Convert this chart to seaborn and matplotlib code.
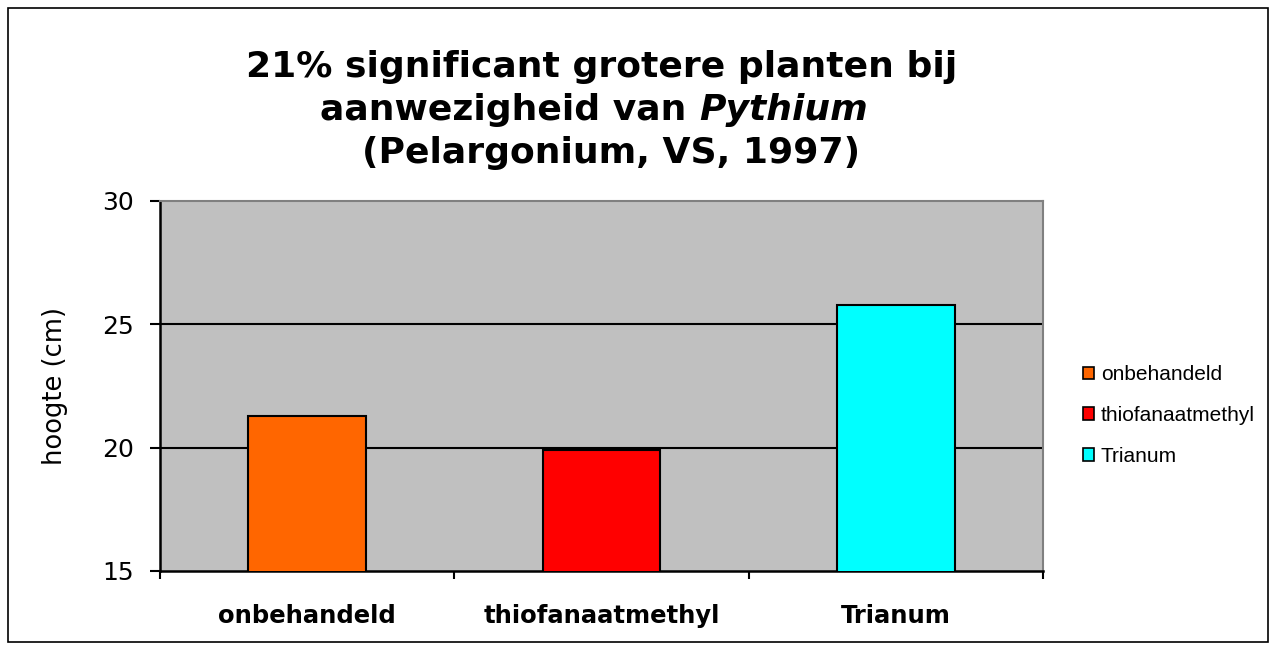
import matplotlib
matplotlib.use("Agg")
import matplotlib.pyplot as plt
import seaborn as sns
import pandas as pd
from matplotlib.patches import Rectangle

# data
behandelingen = ["onbehandeld", "thiofanaatmethyl", "Trianum"]
hoogte = [21.3, 19.9, 25.8]
kleuren = ["#FF6600", "#FF0000", "#00FFFF"]
y_ticks = [15, 20, 25, 30]

df = pd.DataFrame({"behandeling": behandelingen, "hoogte": hoogte})

sns.set_style("ticks")
plt.rcParams["font.family"] = ["DejaVu Sans"]
plt.rcParams["text.color"] = "black"
plt.rcParams["axes.labelcolor"] = "black"
plt.rcParams["xtick.color"] = "black"
plt.rcParams["ytick.color"] = "black"

fig = plt.figure(figsize=(12.76, 6.5), dpi=100)
ax = fig.add_axes([160 / 1276, 79 / 650, 883 / 1276, 370 / 650])
ax.set_facecolor("#C0C0C0")

sns.barplot(data=df, x="behandeling", y="hoogte", hue="behandeling",
            palette=kleuren, saturation=1, width=0.4, edgecolor="black",
            linewidth=1.5, dodge=False, legend=True, ax=ax, zorder=3)

ax.set_ylim(15, 30)
ax.set_xlim(-0.5, 2.5)
ax.set_yticks(y_ticks)
ax.set_yticklabels([str(t) for t in y_ticks], fontsize=18)
for t in [20, 25]:
    ax.axhline(t, color="black", lw=1.5, zorder=1)

# category labels in the middle, tick marks on the boundaries
ax.set_xticks([-0.5, 0.5, 1.5, 2.5])
ax.set_xticklabels([])
ax.set_xticks([0, 1, 2], minor=True)
ax.set_xticklabels(behandelingen, minor=True, fontsize=17.5, fontweight="bold")
ax.tick_params(axis="x", which="minor", length=0, pad=24)
ax.tick_params(axis="x", which="major", direction="out", length=6, width=1.5)
ax.tick_params(axis="y", direction="out", length=7, width=1.5, pad=12)
ax.set_xlabel("")
ax.set_ylabel("hoogte (cm)", fontsize=18.5, labelpad=24)

for s in ["left", "bottom"]:
    ax.spines[s].set_color("black")
    ax.spines[s].set_linewidth(1.8)
for s in ["top", "right"]:
    ax.spines[s].set_color("#808080")
    ax.spines[s].set_linewidth(1.5)

leg = ax.legend(loc="center left", bbox_to_anchor=(1.024, 0.42), frameon=False,
                prop={"family": "Liberation Sans", "size": 15},
                handlelength=0.55, handleheight=0.55, handletextpad=0.3,
                labelspacing=1.05)
for h in leg.legend_handles:
    h.set_edgecolor("black")
    h.set_linewidth(1.2)

# title, three lines with Pythium in italics
fs = 26
fig.text(602 / 1276, 1 - 67 / 650, "21% significant grotere planten bij",
         ha="center", va="center", fontsize=fs, fontweight="bold")
fig.text(611 / 1276, 1 - 153 / 650, "(Pelargonium, VS, 1997)",
         ha="center", va="center", fontsize=fs, fontweight="bold")
fig.canvas.draw()
r = fig.canvas.get_renderer()
t1 = fig.text(0, 0, "aanwezigheid van ", fontsize=fs, fontweight="bold")
t2 = fig.text(0, 0, "Pythium", fontsize=fs, fontweight="bold", style="italic")
w1 = t1.get_window_extent(r).width / fig.bbox.width
w2 = t2.get_window_extent(r).width / fig.bbox.width
x0 = 594 / 1276 - (w1 + w2) / 2
for t, x in [(t1, x0), (t2, x0 + w1)]:
    t.set_position((x, 1 - 110 / 650))
    t.set_va("center")

# border round the whole chart
fig.patches.append(Rectangle((8 / 1276, 8 / 650), 1260 / 1276, 634 / 650,
                             transform=fig.transFigure, fill=False,
                             edgecolor="black", lw=1.2))

fig.savefig("out.png", dpi=100)
